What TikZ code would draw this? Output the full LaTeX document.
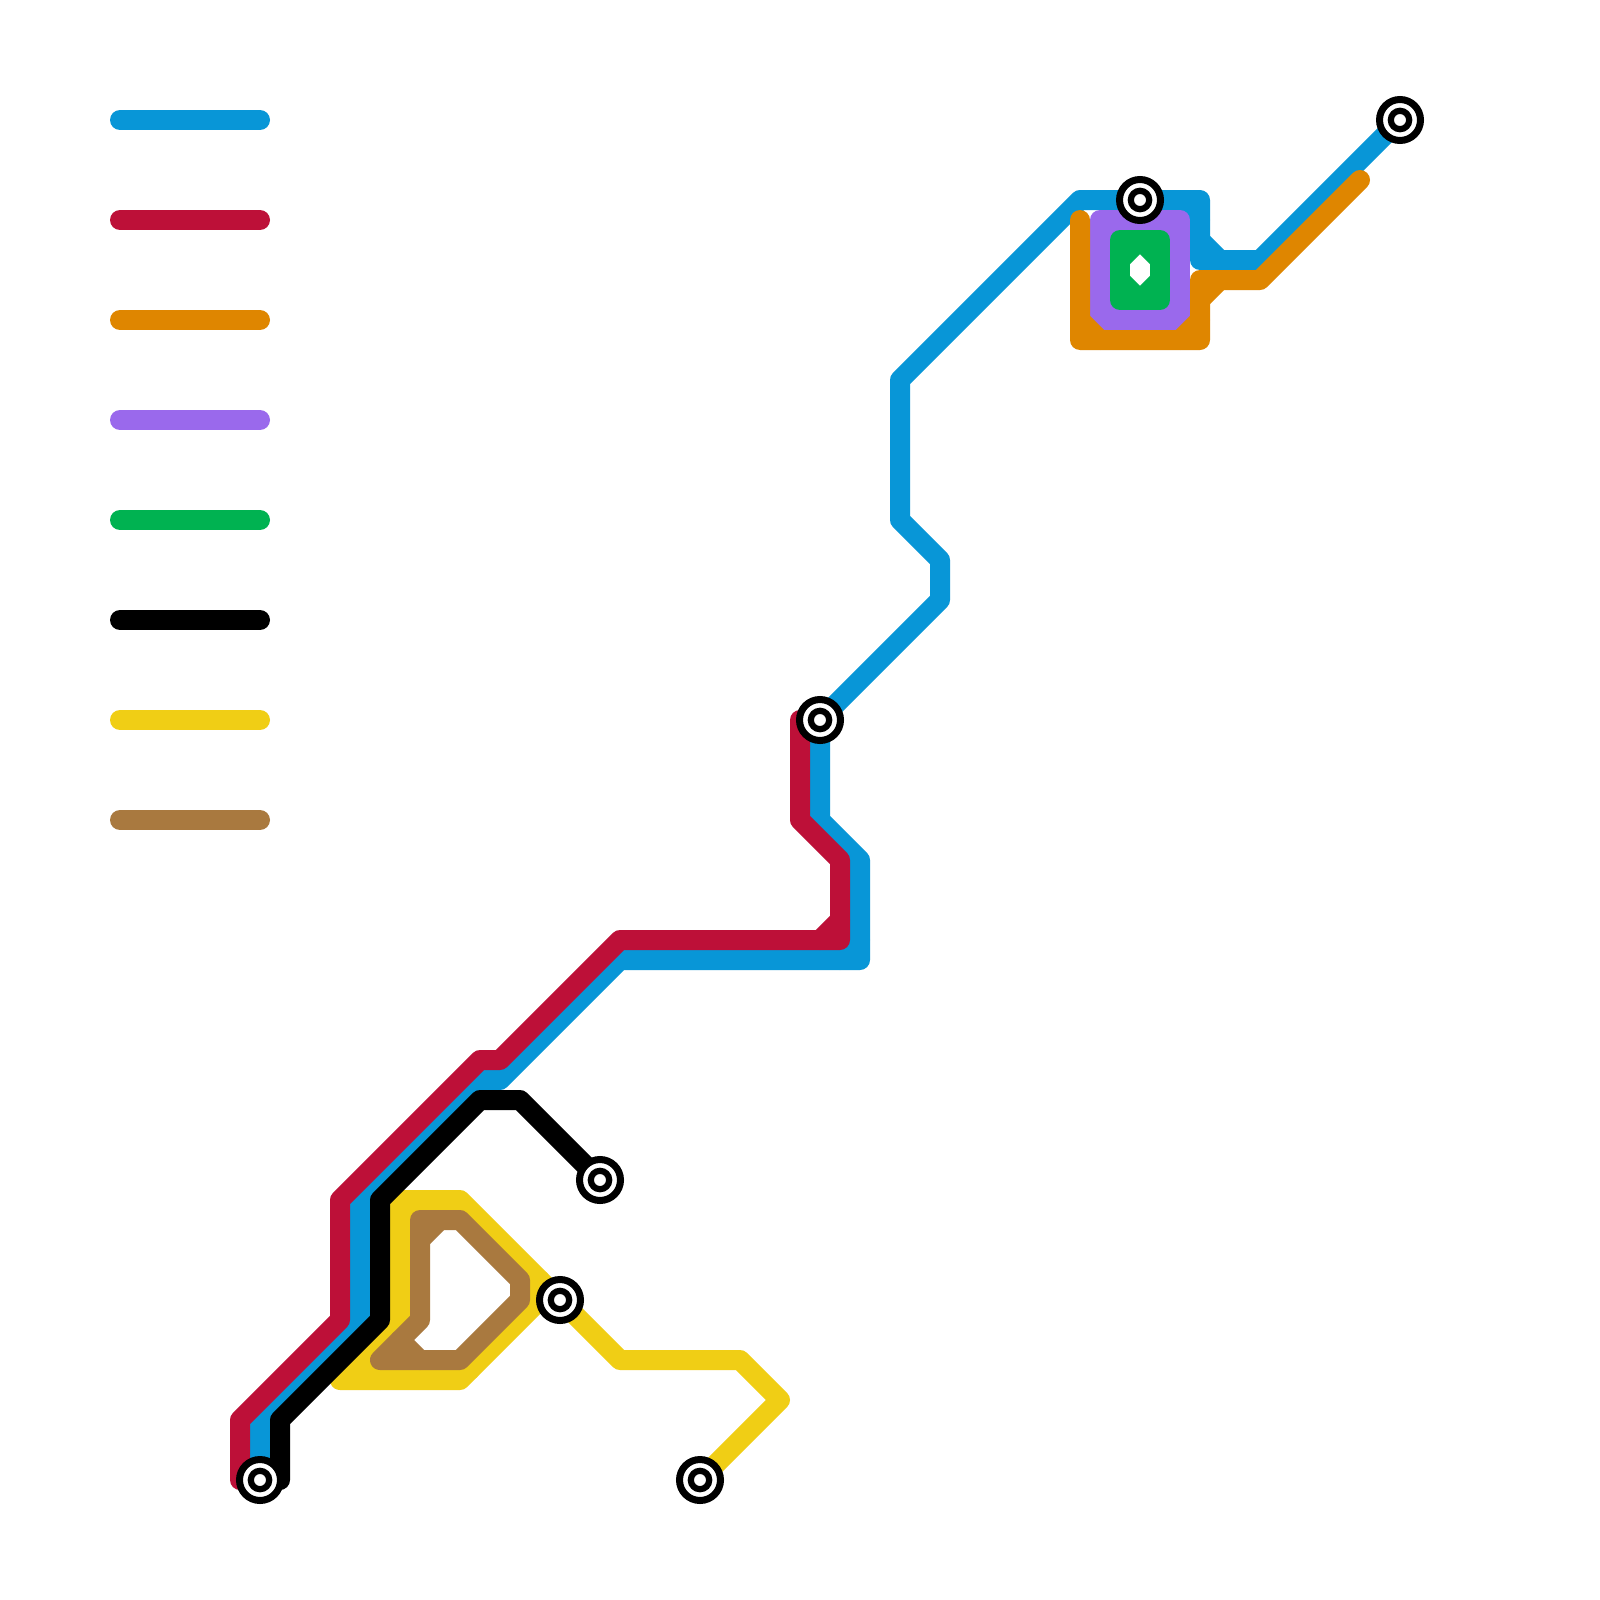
\documentclass[tikz,border=0pt]{standalone}
\definecolor{lblue}{HTML}{0896D7}
\definecolor{lred}{HTML}{BD1038}
\definecolor{lorange}{HTML}{DF8600}
\definecolor{lpurple}{HTML}{9A69EC}
\definecolor{lgreen}{HTML}{00B251}
\definecolor{lyellow}{HTML}{F0CE15}
\definecolor{lbrown}{HTML}{A9793F}
\tikzset{
  route/.style={line width=10pt,line cap=round,line join=round},
  ring/.style={circle,draw=black,fill=white,line width=3.5pt,minimum size=20.5pt,inner sep=0pt,outer sep=0pt},
  core/.style={circle,draw=black,fill=white,line width=3.1pt,minimum size=9.2pt,inner sep=0pt,outer sep=0pt}
}
\begin{document}
\begin{tikzpicture}[x=0.5pt,y=-0.5pt]
\useasboundingbox (0,0) rectangle (1600,1600);
\fill[white] (0,0) rectangle (1600,1600);
% station positions
\coordinate (sa) at (260,1480);
\coordinate (sb) at (820,720);
\coordinate (sc) at (1140,200);
\coordinate (sd) at (1400,120);
\coordinate (se) at (600,1180);
\coordinate (sf) at (560,1300);
\coordinate (sg) at (700,1480);
% legend
\foreach \yy/\cc in {120/lblue,220/lred,320/lorange,420/lpurple,520/lgreen,620/black,720/lyellow,820/lbrown}
  \draw[route,\cc] (120,\yy) -- (260,\yy);
% blue
\draw[route,lblue] (sa) -- (260,1420) -- (360,1320) -- (360,1200) -- (480,1080) -- (500,1080) -- (620,960) -- (860,960) -- (860,860) -- (820,820) -- (sb) -- (940,600) -- (940,560) -- (900,520) -- (900,380) -- (1080,200) -- (sc) -- (1200,200) -- (1200,260) -- (1260,260) -- (sd);
\draw[route,lblue] (1200,240) -- (1220,260);
\draw[route,lblue] (840,960) -- (860,940);
\draw[route,lblue] (1180,200) -- (1200,220);
% red
\draw[route,lred] (240,1480) -- (240,1420) -- (340,1320) -- (340,1200) -- (480,1060) -- (500,1060) -- (620,940) -- (840,940) -- (840,860) -- (800,820) -- (800,720);
\draw[route,lred] (820,940) -- (840,920);
% purple
\draw[route,lpurple] (1100,220) -- (1180,220) -- (1180,320) -- (1100,320) -- cycle;
\draw[route,lpurple] (1100,240) -- (1120,220);
\draw[route,lpurple] (1160,220) -- (1180,240);
\draw[route,lpurple] (1180,300) -- (1160,320);
\draw[route,lpurple] (1100,300) -- (1120,320);
% orange
\draw[route,lorange] (1360,180) -- (1260,280) -- (1200,280) -- (1200,340) -- (1080,340) -- (1080,220);
\draw[route,lorange] (1200,300) -- (1220,280);
\draw[route,lorange] (1080,320) -- (1100,340);
\draw[route,lorange] (1180,340) -- (1200,320);
% green
\draw[route,lgreen] (1120,240) -- (1160,240) -- (1160,300) -- (1120,300) -- cycle;
\draw[route,lgreen] (1120,260) -- (1140,240) -- (1160,260);
\draw[route,lgreen] (1120,280) -- (1140,300) -- (1160,280);
% yellow
\draw[route,lyellow] (sg) -- (780,1400) -- (740,1360) -- (620,1360) -- (460,1200) -- (400,1200) -- (400,1320) -- (340,1380) -- (460,1380) -- (540,1300) -- (sf);
\draw[route,lyellow] (400,1220) -- (420,1200);
\draw[route,lyellow] (360,1360) -- (380,1380);
\draw[route,lyellow] (540,1280) -- (540,1300);
\draw[route,lyellow] (440,1380) -- (470,1370);
% brown
\draw[route,lbrown] (420,1220) -- (460,1220) -- (520,1280) -- (520,1300) -- (460,1360) -- (380,1360) -- (420,1320) -- cycle;
\draw[route,lbrown] (420,1240) -- (440,1220);
\draw[route,lbrown] (400,1340) -- (420,1360);
% black
\draw[route,black] (280,1480) -- (280,1420) -- (380,1320) -- (380,1200) -- (480,1100) -- (520,1100) -- (se);
% stations
\foreach \s in {sa,sb,sc,sd,se,sf,sg}{
  \node[ring] (\s-ring) at (\s) {};
  \node[core] (\s-core) at (\s) {};
}
\end{tikzpicture}
\end{document}
